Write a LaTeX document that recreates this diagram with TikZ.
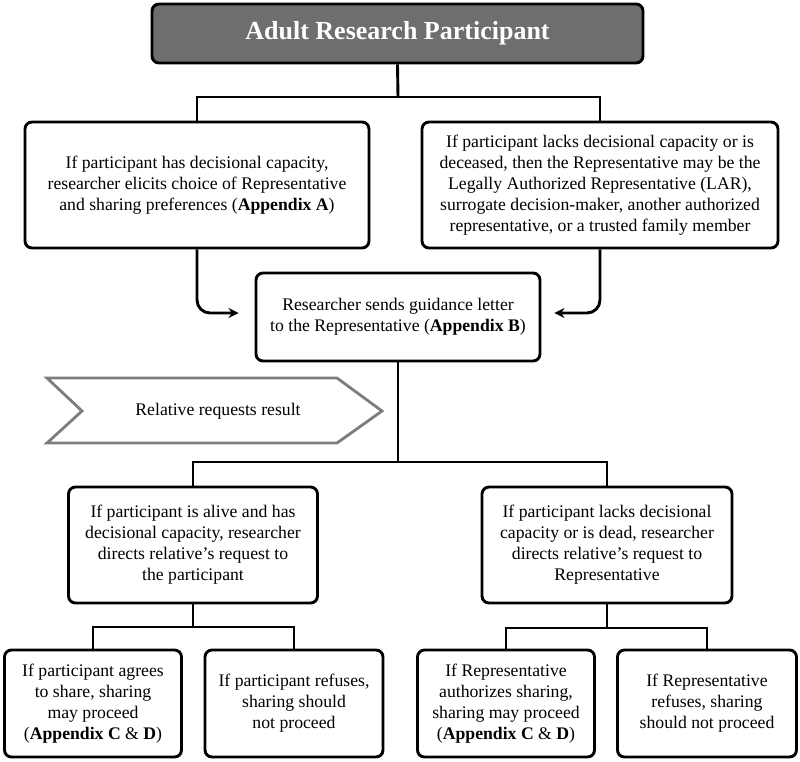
\documentclass[tikz,border=0pt]{standalone}
\usepackage{fontspec}
\setmainfont{Liberation Serif}
\usetikzlibrary{arrows.meta}
\definecolor{topgray}{RGB}{110,110,110}
\definecolor{chevgray}{RGB}{125,125,125}
\begin{document}
\begin{tikzpicture}[x=1pt,y=-1pt,
  box/.style={draw=black, line width=2.9pt, rounded corners=7pt, align=center, inner sep=0pt,
    font=\fontsize{17.7}{21}\selectfont},
  link/.style={line width=2.9pt},
  arr/.style={line width=2.9pt, rounded corners=13pt, -{Stealth[length=10pt,width=10pt]}}]
\useasboundingbox (0,0) rectangle (800,761);
\fill[white] (0,0) rectangle (800,761);

\node[box, fill=topgray, text=white, minimum width=491pt, minimum height=59pt,
  font=\fontsize{26}{30}\selectfont\bfseries] (top) at (397.5,33.5) {Adult Research Participant};

\node[box, minimum width=344pt, minimum height=126pt] (lb1) at (197,185)
  {If participant has decisional capacity,\\researcher elicits choice of Representative\\and sharing preferences (\textbf{Appendix A})};
\node[box, minimum width=356pt, minimum height=126pt] (rb1) at (600,185)
  {If participant lacks decisional capacity or is\\deceased, then the Representative may be the\\Legally Authorized Representative (LAR),\\surrogate decision-maker, another authorized\\representative, or a trusted family member};

\node[box, minimum width=284pt, minimum height=88pt] (mid) at (398,317)
  {Researcher sends guidance letter\\to the Representative (\textbf{Appendix B})};

\node[box, minimum width=249pt, minimum height=116pt] (lb2) at (193,545)
  {If participant is alive and has\\decisional capacity, researcher\\directs relative's request to\\the participant};
\node[box, minimum width=250pt, minimum height=116pt] (rb2) at (607,545)
  {If participant lacks decisional\\capacity or is dead, researcher\\directs relative's request to\\Representative};

\node[box, minimum width=177pt, minimum height=107pt] (l1) at (93,703.5)
  {If participant agrees\\to share, sharing\\may proceed\\(\textbf{Appendix C} \& \textbf{D})};
\node[box, minimum width=178pt, minimum height=107pt] (l2) at (294,703.5)
  {If participant refuses,\\sharing should\\not proceed};
\node[box, minimum width=177pt, minimum height=107pt] (l3) at (506,703.5)
  {If Representative\\authorizes sharing,\\sharing may proceed\\(\textbf{Appendix C} \& \textbf{D})};
\node[box, minimum width=179pt, minimum height=107pt] (l4) at (707,703.5)
  {If Representative\\refuses, sharing\\should not proceed};

% chevron
\draw[chevgray, line width=2.8pt, line join=miter, fill=white]
  (47,378) -- (337,378) -- (382,411) -- (337,443) -- (47,443) -- (82,411) -- cycle;
\node[font=\fontsize{17.7}{21}\selectfont] (chev) at (218,411) {Relative requests result};

% connectors
\coordinate (j1) at (398,97);
\coordinate (j2) at (398,462);
\coordinate (j3) at (193,627);
\coordinate (j4) at (607,628);
\draw[link] (top.south) -- (j1);
\draw[link] (lb1.north) |- (j1) -| (rb1.north);
\draw[arr] (lb1.south) |- ([xshift=-16pt,yshift=4pt]mid.west);
\draw[arr] (rb1.south) |- ([xshift=13pt,yshift=4pt]mid.east);
\draw[link] (mid.south) -- (j2);
\draw[link] (lb2.north) |- (j2) -| (rb2.north);
\draw[link] (lb2.south) -- (j3);
\draw[link] (l1.north) |- (j3) -| (l2.north);
\draw[link] (rb2.south) -- (j4);
\draw[link] (l3.north) |- (j4) -| (l4.north);
\end{tikzpicture}
\end{document}
